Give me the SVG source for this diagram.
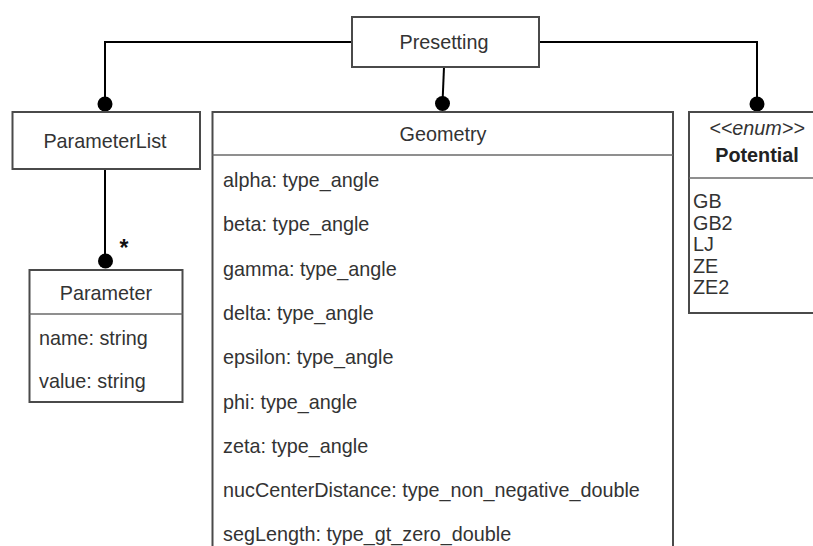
<svg xmlns="http://www.w3.org/2000/svg" width="813" height="546" viewBox="0 0 813 546">
  <style>
    .box { fill: #ffffff; stroke: #4a4a4a; stroke-width: 2; }
    .sep { fill: none; stroke: #6a6a6a; stroke-width: 1.6; }
    .conn { fill: none; stroke: #000000; stroke-width: 2; }
    .dot { fill: #000000; }
    text { font-family: "Liberation Sans", Arial, sans-serif; font-size: 19.8px; fill: #333333; }
    .c { text-anchor: middle; }
    .it { font-style: italic; }
    .b { font-weight: bold; fill: #222222; }
    .mult { font-size: 23px; font-weight: bold; fill: #111111; }
  </style>

  <!-- connectors -->
  <g id="connectors">
    <path class="conn" d="M351 42 H105 V104"/>
    <path class="conn" d="M444 67 L442.5 103"/>
    <path class="conn" d="M539 42 H757 V104"/>
    <path class="conn" d="M105 169 V261"/>
    <circle class="dot" cx="105" cy="104" r="7.5"/>
    <circle class="dot" cx="442.5" cy="103.5" r="7.5"/>
    <circle class="dot" cx="757" cy="104" r="7.5"/>
    <circle class="dot" cx="105.5" cy="261" r="7.5"/>
    <text x="124" y="256" class="c mult">*</text>
  </g>

  <!-- Presetting -->
  <g id="presetting">
    <rect class="box" x="352" y="17" width="187" height="50"/>
    <text x="444" y="49" class="c">Presetting</text>
  </g>

  <!-- ParameterList -->
  <g id="parameterlist">
    <rect class="box" x="12.5" y="112" width="187.5" height="57"/>
    <text x="105" y="148" class="c">ParameterList</text>
  </g>

  <!-- Parameter -->
  <g id="parameter">
    <rect class="box" x="29.5" y="270" width="153" height="132"/>
    <line class="sep" x1="29.5" y1="314" x2="182.5" y2="314"/>
    <text x="106" y="300" class="c">Parameter</text>
    <text x="39" y="345">name: string</text>
    <text x="39" y="388">value: string</text>
  </g>

  <!-- Geometry -->
  <g id="geometry">
    <rect class="box" x="212.5" y="112" width="460.5" height="450"/>
    <line class="sep" x1="212.5" y1="155" x2="673" y2="155"/>
    <text x="443" y="141" class="c">Geometry</text>
    <text x="223" y="187">alpha: type_angle</text>
    <text x="223" y="231.3">beta: type_angle</text>
    <text x="223" y="275.6">gamma: type_angle</text>
    <text x="223" y="319.9">delta: type_angle</text>
    <text x="223" y="364.2">epsilon: type_angle</text>
    <text x="223" y="408.5">phi: type_angle</text>
    <text x="223" y="452.8">zeta: type_angle</text>
    <text x="223" y="497.1">nucCenterDistance: type_non_negative_double</text>
    <text x="223" y="541.4">segLength: type_gt_zero_double</text>
  </g>

  <!-- Potential (enumeration) -->
  <g id="potential">
    <rect class="box" x="689" y="112" width="140" height="201"/>
    <line class="sep" x1="689" y1="178" x2="829" y2="178"/>
    <text x="757" y="135" class="c it">&lt;&lt;enum&gt;&gt;</text>
    <text x="757" y="162" class="c b">Potential</text>
    <text x="693" y="208">GB</text>
    <text x="693" y="229.5">GB2</text>
    <text x="693" y="251">LJ</text>
    <text x="693" y="272.5">ZE</text>
    <text x="693" y="294">ZE2</text>
  </g>
</svg>
